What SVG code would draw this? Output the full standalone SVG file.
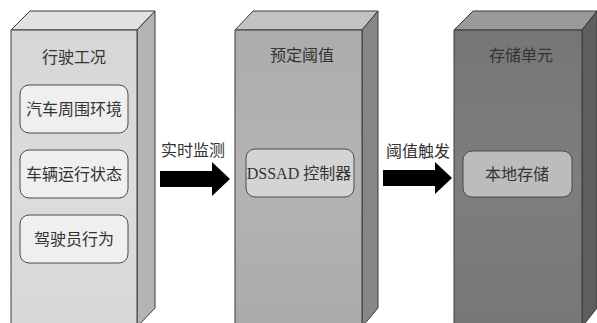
<svg xmlns="http://www.w3.org/2000/svg" width="597" height="323" viewBox="0 0 597 323">
<defs>
<linearGradient id="g1" x1="0" y1="0" x2="0" y2="1"><stop offset="0" stop-color="#d6d6d6"/><stop offset="0.5" stop-color="#dcdcdc"/><stop offset="1" stop-color="#d8d8d8"/></linearGradient>
<linearGradient id="g2" x1="0" y1="0" x2="0" y2="1"><stop offset="0" stop-color="#acacac"/><stop offset="0.5" stop-color="#b4b4b4"/><stop offset="1" stop-color="#aaaaaa"/></linearGradient>
<linearGradient id="g3" x1="0" y1="0" x2="0" y2="1"><stop offset="0" stop-color="#767676"/><stop offset="0.5" stop-color="#7e7e7e"/><stop offset="1" stop-color="#777777"/></linearGradient>
</defs>
<style>
.edge{stroke:#3a3a3a;stroke-width:1;stroke-linejoin:round}
.inner{stroke:#4a4a4a;stroke-width:1}
.t{font-family:"Liberation Serif","Noto Sans CJK SC",serif;font-size:16px;fill:#333;text-anchor:middle;dominant-baseline:central}
.arrow{fill:#000}
</style>
<rect width="597" height="323" fill="#fff"/>
<g id="box1">
<polygon class="edge" points="11,30 30,11 155,11 137,30" fill="#e2e2e2"/>
<polygon class="edge" points="137,30 155,11 155,308 137,327" fill="#b4b4b4"/>
<rect class="edge" x="11" y="30" width="126" height="300" fill="url(#g1)"/>
<text class="t" x="74" y="57">行驶工况</text>
</g>
<g id="n-env">
<rect class="inner" x="20" y="85" width="108" height="48" rx="9" fill="#efefef"/>
<text class="t" x="74" y="109">汽车周围环境</text>
</g>
<g id="n-state">
<rect class="inner" x="20" y="150" width="108" height="48" rx="9" fill="#efefef"/>
<text class="t" x="74" y="174">车辆运行状态</text>
</g>
<g id="n-driver">
<rect class="inner" x="20" y="215" width="108" height="48" rx="9" fill="#efefef"/>
<text class="t" x="74" y="239">驾驶员行为</text>
</g>
<g id="box2">
<polygon class="edge" points="235,30 253,11 378,11 362,30" fill="#c2c2c2"/>
<polygon class="edge" points="362,30 378,11 378,308 362,327" fill="#878787"/>
<rect class="edge" x="235" y="30" width="127" height="300" fill="url(#g2)"/>
<text class="t" x="302" y="55">预定阈值</text>
</g>
<g id="n-dssad">
<rect class="inner" x="246" y="149" width="108" height="48" rx="9" fill="#d4d4d4"/>
<text class="t" x="299" y="173">DSSAD 控制器</text>
</g>
<g id="box3">
<polygon class="edge" points="454,30 473,11 597,11 582,30" fill="#9a9a9a"/>
<polygon class="edge" points="582,30 597,11 597,308 582,327" fill="#5e5e5e"/>
<rect class="edge" x="454" y="30" width="128" height="300" fill="url(#g3)"/>
<text class="t" x="521" y="55">存储单元</text>
</g>
<g id="n-local">
<rect class="inner" x="463" y="151" width="109" height="46" rx="9" fill="#bcbcbc"/>
<text class="t" x="517" y="174">本地存储</text>
</g>
<g id="connectors">
<polygon class="arrow" points="160,171 212,171 212,162 230,179 212,196 212,187 160,187"/>
<text class="t" x="193" y="150">实时监测</text>
<polygon class="arrow" points="383,170 435,170 435,162 452,178 435,194 435,186 383,186"/>
<text class="t" x="418" y="151">阈值触发</text>
</g>
</svg>
